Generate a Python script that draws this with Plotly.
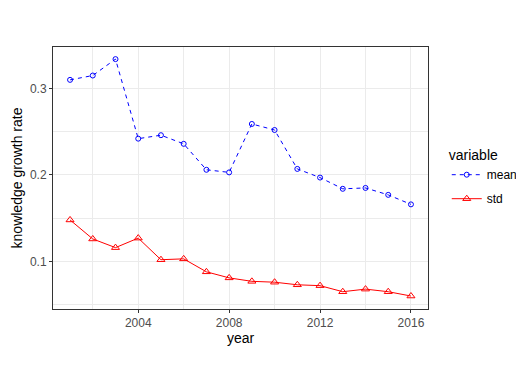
import plotly.graph_objects as go

years = list(range(2001, 2017))
mean_vals = [0.310, 0.315, 0.334, 0.242, 0.246, 0.236, 0.206, 0.203,
             0.259, 0.252, 0.207, 0.197, 0.184, 0.185, 0.177, 0.166]
std_vals = [0.148, 0.126, 0.116, 0.127, 0.102, 0.103, 0.088, 0.081,
            0.077, 0.076, 0.073, 0.072, 0.065, 0.068, 0.065, 0.060]

fig = go.Figure()

fig.add_trace(
    go.Scatter(
        x=years,
        y=mean_vals,
        name="mean",
        legendgroup="mean",
        mode="lines+markers",
        line=dict(color="blue", width=1, dash="4px,4px"),
        marker=dict(symbol="circle-open", size=5, color="blue", line=dict(width=1)),
    )
)
fig.add_trace(
    go.Scatter(
        x=years,
        y=std_vals,
        name="std",
        legendgroup="std",
        mode="lines+markers",
        line=dict(color="red", width=1),
        marker=dict(symbol="triangle-up-open", size=7, color="red", line=dict(width=1)),
    )
)

axis_font = dict(family="Liberation Sans, Arial", size=12, color="#4D4D4D")
title_font = dict(family="Liberation Sans, Arial", size=14, color="black")

# page body has an 8px margin, so the figure is a bit smaller than the window
fig.update_layout(
    width=516,
    height=365,
    margin=dict(l=45, r=96, t=39, b=64, autoexpand=False),
    paper_bgcolor="white",
    plot_bgcolor="white",
    font=dict(family="Liberation Sans, Arial"),
    legend=dict(
        title=dict(text="variable", font=dict(size=14, color="black")),
        x=1.05,
        xanchor="left",
        y=0.50,
        yanchor="middle",
        font=dict(size=12, color="black"),
        itemwidth=30,
        tracegroupgap=5,
    ),
    xaxis=dict(
        title=dict(text="year", font=title_font, standoff=2),
        automargin=False,
        range=[2000.25, 2016.75],
        tickvals=[2004, 2008, 2012, 2016],
        tickfont=axis_font,
        ticks="outside",
        ticklen=3,
        tickcolor="#333333",
        showline=True,
        linecolor="#333333",
        linewidth=1,
        mirror=True,
        showgrid=True,
        gridcolor="#EBEBEB",
        minor=dict(tickvals=[2002, 2006, 2010, 2014], showgrid=True,
                   gridcolor="#EBEBEB", gridwidth=0.5),
        zeroline=False,
    ),
    yaxis=dict(
        title=dict(text="knowledge growth rate", font=title_font, standoff=4),
        automargin=False,
        range=[0.045, 0.348],
        tickvals=[0.1, 0.2, 0.3],
        tickformat=".1f",
        tickfont=axis_font,
        ticks="outside",
        ticklen=3,
        tickcolor="#333333",
        showline=True,
        linecolor="#333333",
        linewidth=1,
        mirror=True,
        showgrid=True,
        gridcolor="#EBEBEB",
        minor=dict(tickvals=[0.05, 0.15, 0.25], showgrid=True,
                   gridcolor="#EBEBEB", gridwidth=0.5),
        zeroline=False,
    ),
)

fig.write_html("out.html")
